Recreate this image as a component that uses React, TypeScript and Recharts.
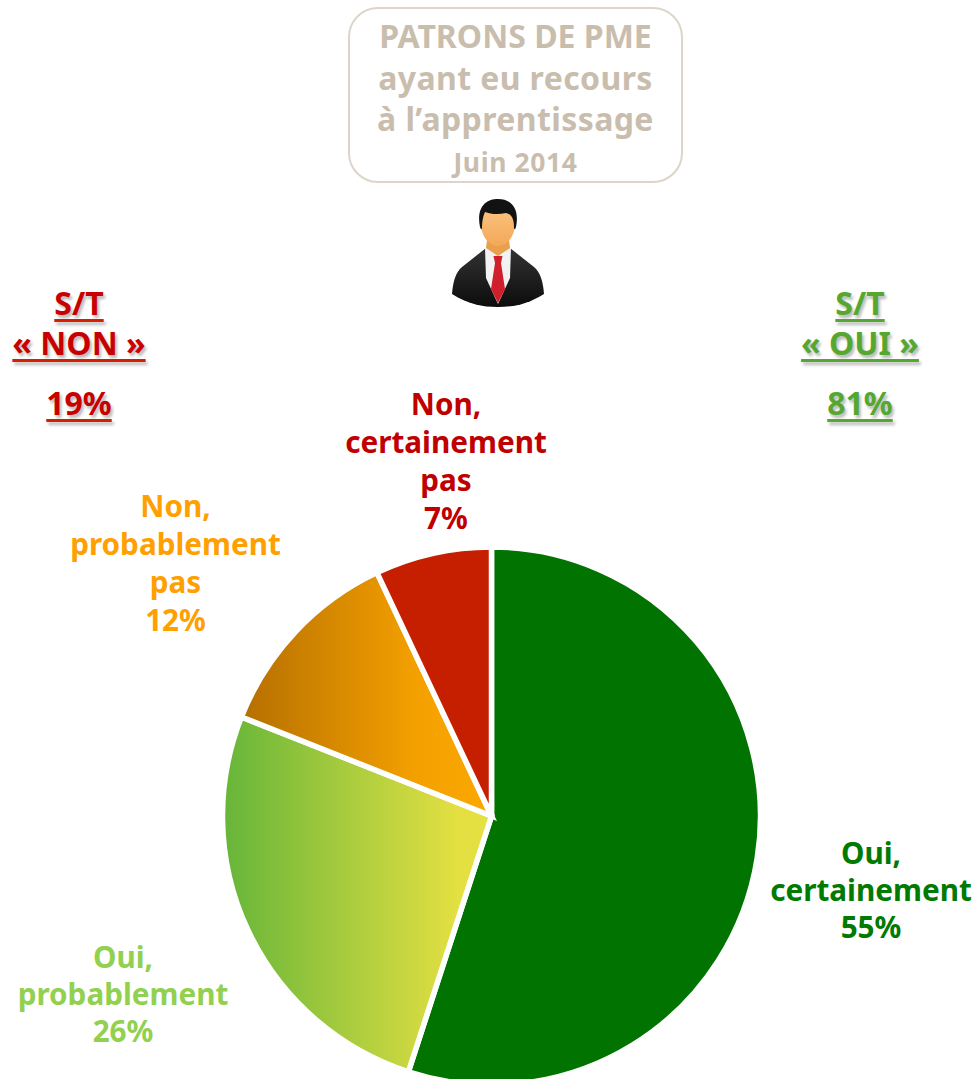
import { PieChart, Pie, Cell } from 'recharts';

const categories = ['Oui, certainement', 'Oui, probablement', 'Non, probablement pas', 'Non, certainement pas'];
const shares = [55, 26, 12, 7];
const fills = ['#007300', 'url(#ouiProb)', 'url(#nonProb)', '#c61f00'];
const textColors = ['#007a00', '#92d050', '#ff9f00', '#c00000'];
const labelLines = [
    ['Oui,', 'certainement', '55%'],
    ['Oui,', 'probablement', '26%'],
    ['Non,', 'probablement', 'pas', '12%'],
    ['Non,', 'certainement', 'pas', '7%'],
];
// centre x / first baseline y / line step of each slice label
const labelAnchors = [
    [871, 864, 37],
    [123, 968, 37],
    [175.5, 517, 38],
    [446, 415, 38],
];
const titleLines = ['PATRONS DE PME', 'ayant eu recours', 'à l’apprentissage'];
const titleSpacing = [0, 0.4, 0.4];
const titleDate = 'Juin 2014';
const font = '"Noto Sans", sans-serif';

const chartData = categories.map((name, i) => ({ name, value: shares[i] }));

function SliceLabel({ index }: any) {
    const [x, y, step] = labelAnchors[index];
    return (
        <text textAnchor="middle" fontFamily={font} fontWeight={700} fontSize={29.7} fill={textColors[index]}>
            {labelLines[index].map((line, i) => (
                <tspan key={line} x={x} y={y + i * step}>{line}</tspan>
            ))}
        </text>
    );
}

function Total({ lines, value, color, lineColor, center }: any) {
    const style: React.CSSProperties = {
        position: 'absolute', left: center - 100, width: 200, textAlign: 'center', color,
        fontFamily: font, fontWeight: 700, fontSize: 32, lineHeight: '40px',
        textDecoration: 'underline', textDecorationThickness: 3, textUnderlineOffset: 4, textDecorationColor: lineColor,
        textShadow: '2px 3px 3px rgba(0,0,0,0.28)', whiteSpace: 'nowrap',
    };
    return (
        <>
            <div style={{ ...style, top: 283 }}>{lines[0]}</div>
            <div style={{ ...style, top: 323 }}>{lines[1]}</div>
            <div style={{ ...style, top: 383 }}>{value}</div>
        </>
    );
}

function Manager() {
    return (
        <svg width={100} height={114} viewBox="0 0 100 114" style={{ position: 'absolute', left: 448, top: 196 }}>
            <defs>
                <linearGradient id="face" x1="0" y1="0" x2="0" y2="1">
                    <stop offset="0%" stopColor="#fcc683" />
                    <stop offset="100%" stopColor="#f3a858" />
                </linearGradient>
                <linearGradient id="jacket" x1="0" y1="0" x2="0" y2="1">
                    <stop offset="0%" stopColor="#333" />
                    <stop offset="100%" stopColor="#0c0c0c" />
                </linearGradient>
            </defs>
            <path d="M4 98 C5 85 8 76 14 71 L38 52 L62 52 L86 71 C92 76 95 85 96 98 C80 108 66 111 50 111 C34 111 20 108 4 98 Z" fill="url(#jacket)" />
            <path d="M37 52 L63 52 L62 82 L50 108 L38 82 Z" fill="#f2f2f2" />
            <path d="M40 36 L60 36 L62 52 L50 60 L38 52 Z" fill="#e99f4c" />
            <path d="M45.5 60 L54.5 60 L53 67 L57 93 L50 107 L43 93 L47 67 Z" fill="#cf1f2c" />
            <path d="M33 28 C32 13 40 7 50 7 C60 7 68 13 67 28 C67 41 58 50 50 50 C42 50 33 41 33 28 Z" fill="url(#face)" />
            <path d="M32 31 C28 11 38 3 50 3 C62 3 72 11 68 31 C67 34 66 34 66 31 C66 22 63 18 58 17 C50 19 42 18 37 16 C35 20 34 26 34 31 C34 34 33 34 32 31 Z" fill="#121212" />
        </svg>
    );
}

export default function App() {
    return (
        <div style={{ position: 'absolute', left: 0, top: 0, width: 975, height: 1079, overflow: 'hidden', background: '#fff' }}>
            <PieChart width={975} height={1079} margin={{ top: 0, right: 0, bottom: 0, left: 0 }}>
                <defs>
                    <linearGradient id="ouiProb" x1="0" y1="0" x2="1" y2="0">
                        <stop offset="0%" stopColor="#66b539" />
                        <stop offset="88%" stopColor="#e4e042" />
                        <stop offset="100%" stopColor="#e6e042" />
                    </linearGradient>
                    <linearGradient id="nonProb" x1="0" y1="0" x2="1" y2="0">
                        <stop offset="0%" stopColor="#b56f00" />
                        <stop offset="70%" stopColor="#f4a000" />
                        <stop offset="100%" stopColor="#fca800" />
                    </linearGradient>
                </defs>
                <Pie
                    data={chartData}
                    dataKey="value"
                    nameKey="name"
                    cx={491.5}
                    cy={816}
                    innerRadius={0}
                    outerRadius={269}
                    startAngle={90}
                    endAngle={-270}
                    stroke="#fff"
                    strokeWidth={5.5}
                    label={SliceLabel}
                    labelLine={false}
                    isAnimationActive={false}
                >
                    {chartData.map((entry, i) => (
                        <Cell key={entry.name} fill={fills[i]} />
                    ))}
                </Pie>
            </PieChart>

            <div style={{
                position: 'absolute', left: 348, top: 7, width: 331, height: 172, border: '2px solid #ddd5ca', borderRadius: 30,
                textAlign: 'center', color: '#c9bdae', fontFamily: font, fontWeight: 700,
            }}>
                {titleLines.map((line, i) => (
                    <div key={line} style={{ fontSize: 32, lineHeight: '41.5px', whiteSpace: 'nowrap', position: 'relative', top: 6, letterSpacing: titleSpacing[i] }}>{line}</div>
                ))}
                <div style={{ fontSize: 26.5, lineHeight: '36px', position: 'relative', top: 10, letterSpacing: 0.6 }}>{titleDate}</div>
            </div>

            <Manager />
            <Total lines={['S/T', '« NON »']} value="19%" color="#c80000" lineColor="#d42000" center={79} />
            <Total lines={['S/T', '« OUI »']} value="81%" color="#55a82f" lineColor="#55a82f" center={860} />
        </div>
    );
}
